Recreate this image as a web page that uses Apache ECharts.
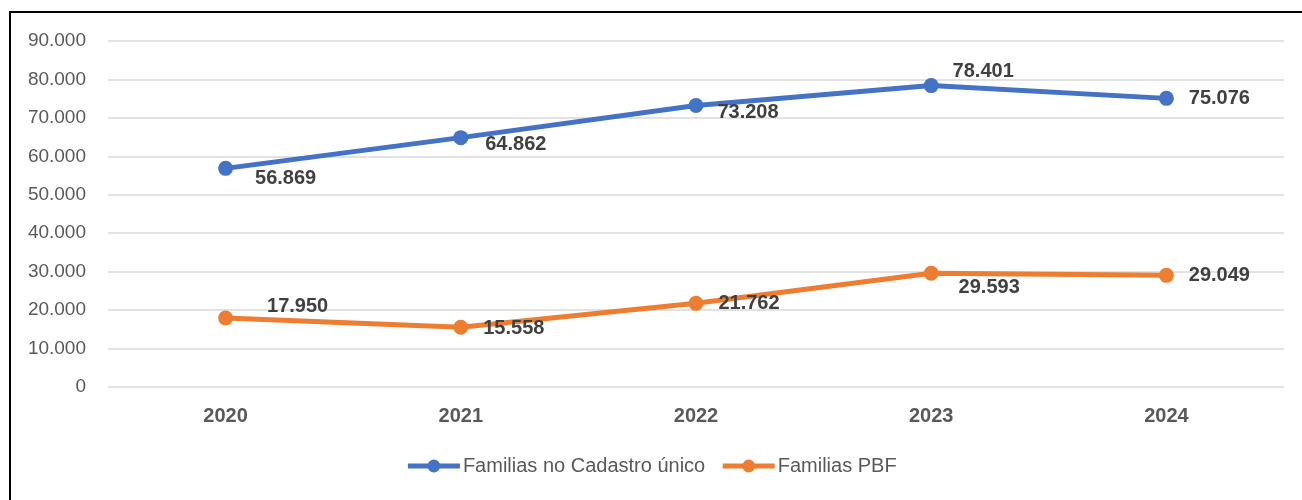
<!DOCTYPE html>
<html>
<head>
<meta charset="utf-8">
<script src="https://cdn.jsdelivr.net/npm/echarts@6/dist/echarts.min.js"></script>
<style>
  body { margin: 0; background: #fff; }
  #wrap { position: relative; width: 1302px; height: 500px; overflow: hidden; }
  #frame { position: absolute; left: 9px; top: 11px; width: 1400px; height: 600px;
           border-left: 2px solid #000; border-top: 2px solid #000; }
  #chart { position: absolute; left: 0; top: 0; width: 1302px; height: 500px; }
</style>
</head>
<body>
<div id="wrap">
  <div id="frame"></div>
  <div id="chart"></div>
</div>
<script>
var anos = ["2020", "2021", "2022", "2023", "2024"];
var cadastro = [56869, 64862, 73208, 78401, 75076];
var pbf = [17950, 15558, 21762, 29593, 29049];
var yTicks = [0, 10000, 20000, 30000, 40000, 50000, 60000, 70000, 80000, 90000];

// deslocamento dos rótulos em relação ao ponto
var offCadastro = [[60, 10], [55, 7], [52, 7], [52, -14], [53, 0]];
var offPbf = [[72, -12], [53, 1], [53, 0], [58, 14], [53, 0]];

function fmt(v) {
  return String(v).replace(/\B(?=(\d{3})+(?!\d))/g, ".");
}

function pontos(vals, offs) {
  return vals.map(function (v, i) {
    return { value: v, label: { offset: offs[i] } };
  });
}

var myChart = echarts.init(document.getElementById("chart"));
var font = "'Liberation Sans', Arial, sans-serif";
var option = {
  animation: false,
  textStyle: { fontFamily: font },
  grid: { left: 108, right: 18, top: 41, bottom: 113 },
  legend: {
    bottom: 19,
    left: "center",
    itemWidth: 52,
    itemHeight: 16,
    itemGap: 15,
    lineStyle: { width: 5 },
    textStyle: { fontSize: 20, color: "#595959", fontFamily: font, padding: [0, 0, 0, -2] },
    data: ["Familias no Cadastro único", "Familias PBF"]
  },
  xAxis: {
    type: "category",
    data: anos,
    boundaryGap: true,
    axisLine: { show: false },
    axisTick: { show: false },
    axisLabel: { fontSize: 20, fontWeight: "bold", color: "#595959", margin: 19 }
  },
  yAxis: {
    type: "value",
    min: yTicks[0],
    max: yTicks[yTicks.length - 1],
    interval: yTicks[1] - yTicks[0],
    axisLine: { show: false },
    axisTick: { show: false },
    splitLine: { lineStyle: { color: "#d9d9d9", width: 1.5 } },
    axisLabel: { fontSize: 19, color: "#595959", margin: 22, formatter: fmt }
  },
  series: [
    {
      name: "Familias no Cadastro único",
      type: "line",
      data: pontos(cadastro, offCadastro),
      symbol: "circle",
      symbolSize: 15,
      color: "#4472C4",
      lineStyle: { width: 5, color: "#4472C4" },
      label: {
        show: true,
        position: "inside",
        fontSize: 20,
        fontWeight: "bold",
        color: "#404040",
        formatter: function (p) { return fmt(p.value); }
      }
    },
    {
      name: "Familias PBF",
      type: "line",
      data: pontos(pbf, offPbf),
      symbol: "circle",
      symbolSize: 15,
      color: "#ED7D31",
      lineStyle: { width: 5, color: "#ED7D31" },
      label: {
        show: true,
        position: "inside",
        fontSize: 20,
        fontWeight: "bold",
        color: "#404040",
        formatter: function (p) { return fmt(p.value); }
      }
    }
  ]
};
myChart.setOption(option);
</script>
</body>
</html>
